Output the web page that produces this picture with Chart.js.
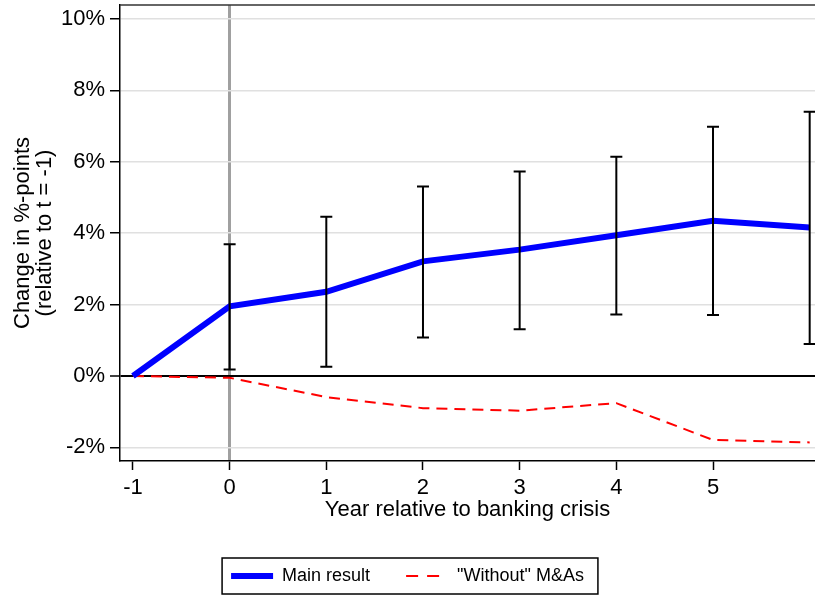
<!DOCTYPE html>
<html>
<head>
<meta charset="utf-8">
<script src="https://cdn.jsdelivr.net/npm/chart.js@4.4.1/dist/chart.umd.min.js"></script>
<style>
  html, body { margin: 0; padding: 0; background: #fff; }
  #wrap { position: relative; width: 815px; height: 595px; }
</style>
</head>
<body>
<div id="wrap"><canvas id="lineChart"></canvas></div>
<script>
// データ（図から読み取った値, %ポイント）
const years = [-1, 0, 1, 2, 3, 4, 5, 6];
const mainResult = [0, 1.95, 2.36, 3.21, 3.54, 3.94, 4.35, 4.16];
const withoutMA = [0, -0.05, -0.59, -0.90, -0.97, -0.76, -1.79, -1.86];
const ciLower = [null, 0.18, 0.26, 1.08, 1.31, 1.72, 1.71, 0.90];
const ciUpper = [null, 3.69, 4.46, 5.31, 5.73, 6.14, 6.98, 7.40];
const xTicks = [-1, 0, 1, 2, 3, 4, 5];
const yTicks = [-2, 0, 2, 4, 6, 8, 10];

Chart.defaults.font.family = '"Liberation Sans", Arial, Helvetica, sans-serif';
Chart.defaults.color = '#000';

// 信頼区間のひげ・上枠線・凡例の枠
const extras = {
    id: 'extras',
    afterDatasetsDraw(chart) {
        const ctx = chart.ctx;
        const xs = chart.scales.x, ys = chart.scales.y;
        ctx.save();
        ctx.strokeStyle = '#000';
        ctx.lineWidth = 2;
        years.forEach((yr, i) => {
            if (ciLower[i] == null) return;
            const px = xs.getPixelForValue(yr);
            const lo = ys.getPixelForValue(ciLower[i]);
            const hi = ys.getPixelForValue(ciUpper[i]);
            ctx.beginPath();
            ctx.moveTo(px, lo); ctx.lineTo(px, hi);
            ctx.moveTo(px - 6, lo); ctx.lineTo(px + 6, lo);
            ctx.moveTo(px - 6, hi); ctx.lineTo(px + 6, hi);
            ctx.stroke();
        });
        // 上の枠線
        const a = chart.chartArea;
        ctx.strokeStyle = '#333';
        ctx.lineWidth = 1.5;
        ctx.beginPath();
        ctx.moveTo(a.left, a.top); ctx.lineTo(a.right, a.top);
        ctx.stroke();
        ctx.restore();
    },
    afterDraw(chart) {
        const lg = chart.legend;
        if (!lg || !lg.legendHitBoxes.length) return;
        const hb = lg.legendHitBoxes;
        const first = hb[0], last = hb[hb.length - 1];
        const ctx = chart.ctx;
        ctx.save();
        ctx.strokeStyle = '#000';
        ctx.lineWidth = 1.5;
        ctx.strokeRect(first.left - 9, first.top - 9,
            last.left + last.width - first.left + 23, first.height + 18);
        ctx.restore();
    }
};

const ctx = document.getElementById('lineChart').getContext('2d');
const lineChart = new Chart(ctx, {
    type: 'line',
    data: {
        datasets: [{
            label: 'Main result',
            data: years.map((x, i) => ({ x: x, y: mainResult[i] })),
            borderColor: '#0000ff',
            backgroundColor: '#0000ff',
            borderWidth: 6,
            pointRadius: 0,
            tension: 0
        }, {
            label: '"Without" M&As',
            data: years.map((x, i) => ({ x: x, y: withoutMA[i] })),
            borderColor: '#ff0000',
            backgroundColor: '#ff0000',
            borderWidth: 2,
            borderDash: [11, 7],
            pointRadius: 0,
            tension: 0
        }]
    },
    options: {
        responsive: true,
        maintainAspectRatio: false,
        animation: false,
        layout: { padding: { top: 5, right: 0, bottom: 0, left: 0 } },
        plugins: {
            tooltip: { enabled: false },
            legend: {
                position: 'bottom',
                labels: {
                    usePointStyle: true,
                    pointStyle: 'line',
                    pointStyleWidth: 42,
                    padding: 36,
                    font: { size: 18 },
                    color: '#000',
                    generateLabels: chart => {
                        const items = Chart.defaults.plugins.legend.labels.generateLabels(chart);
                        items.forEach(it => {
                            const ds = chart.data.datasets[it.datasetIndex];
                            it.lineDash = ds.borderDash ? [12, 9] : [];
                            it.lineWidth = ds.borderWidth;
                        });
                        return items;
                    }
                }
            }
        },
        scales: {
            x: {
                type: 'linear',
                min: -1.134,
                max: 6.055,
                afterBuildTicks: axis => { axis.ticks = xTicks.map(v => ({ value: v })); },
                afterFit: axis => {
                    axis.height = 70;
                    axis.paddingLeft = 0;
                    axis.paddingRight = 0;
                },
                ticks: {
                    font: { size: 22 },
                    padding: 5,
                    color: '#000',
                    callback: v => String(v)
                },
                grid: {
                    color: c => (c.tick && c.tick.value === 0) ? '#a0a0a0' : 'rgba(0,0,0,0)',
                    lineWidth: c => (c.tick && c.tick.value === 0) ? 3 : 1,
                    tickColor: '#000',
                    tickWidth: 1.5,
                    tickLength: 9
                },
                border: { color: '#000', width: 1.5 },
                title: {
                    display: true,
                    text: 'Year relative to banking crisis',
                    font: { size: 22 },
                    color: '#000',
                    padding: { top: 0, bottom: 8 }
                }
            },
            y: {
                min: -2.38,
                max: 10.39,
                afterBuildTicks: axis => { axis.ticks = yTicks.map(v => ({ value: v })); },
                afterFit: axis => {
                    axis.width = 120;
                    axis.paddingTop = 0;
                    axis.paddingBottom = 0;
                },
                ticks: {
                    font: { size: 22 },
                    padding: 5,
                    color: '#000',
                    callback: v => v + '%'
                },
                grid: {
                    color: c => (c.tick && c.tick.value === 0) ? '#000' : '#e0e0e0',
                    lineWidth: c => (c.tick && c.tick.value === 0) ? 2 : 1.5,
                    tickColor: '#000',
                    tickWidth: 1.5,
                    tickLength: 10
                },
                border: { color: '#000', width: 1.5 },
                title: {
                    display: true,
                    text: ['Change in %-points', '(relative to t = -1)'],
                    font: { size: 22, lineHeight: 1.0 },
                    color: '#000',
                    padding: { top: 12, bottom: 0 }
                }
            }
        }
    },
    plugins: [extras]
});
</script>
</body>
</html>
